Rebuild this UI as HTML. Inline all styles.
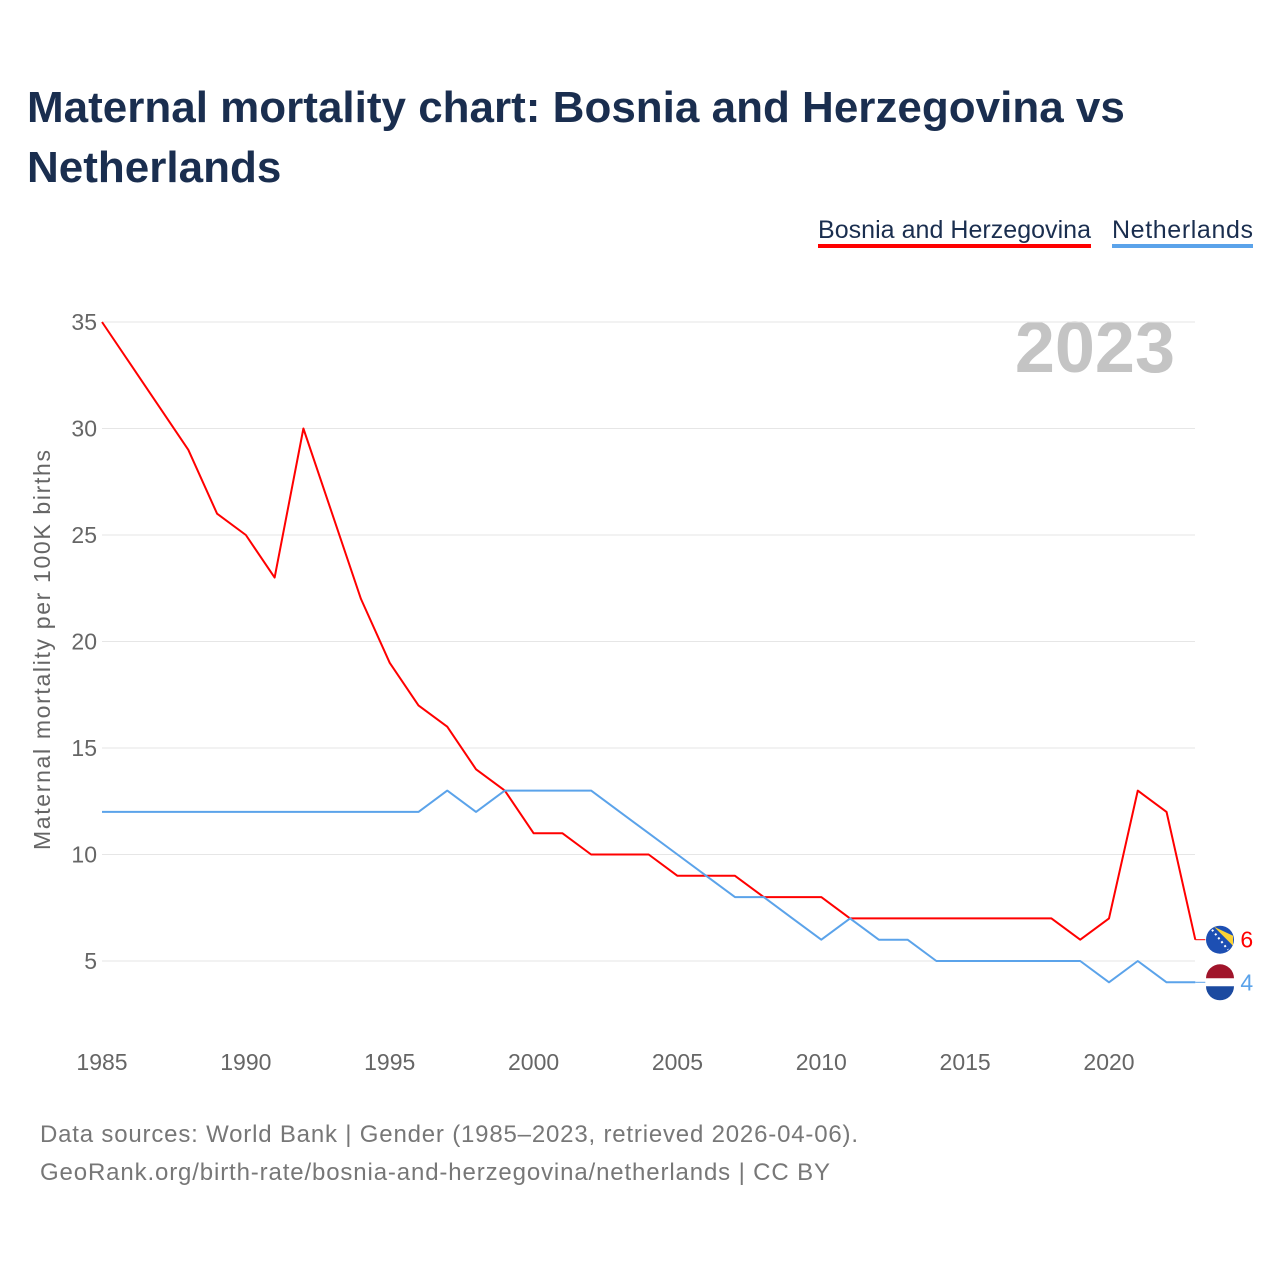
<!DOCTYPE html>
<html><head><meta charset="utf-8">
<style>
body{margin:0;background:#fff;font-family:"Liberation Sans",sans-serif;}
#c{position:relative;width:1280px;height:1280px;}
</style></head>
<body>
<div id="c">
<svg id="s" width="1280" height="1280" xmlns="http://www.w3.org/2000/svg">
<text x="27" y="122" font-size="44" font-weight="bold" fill="#1a2e4f">Maternal mortality chart: Bosnia and Herzegovina vs</text>
<text x="27" y="182" font-size="44" font-weight="bold" fill="#1a2e4f">Netherlands</text>
<g>
<text x="818" y="238" font-size="25" fill="#1a2e4f" textLength="273">Bosnia and Herzegovina</text>
<rect x="818" y="244" width="273" height="4" fill="#f00"/></g>
<g>
<text x="1112" y="238" font-size="25" fill="#1a2e4f" textLength="141">Netherlands</text>
<rect x="1112" y="244" width="141" height="4" fill="#5ba3ea"/></g>
<text x="1175" y="372" font-size="72" font-weight="bold" fill="#c4c4c4" text-anchor="end">2023</text>
<g id="grid"></g><g id="lines"></g>
<text transform="translate(50,850) rotate(-90)" font-size="23" fill="#666" textLength="400">Maternal mortality per 100K births</text>
<text x="40" y="1142" font-size="24" fill="#777" textLength="818">Data sources: World Bank | Gender (1985–2023, retrieved 2026-04-06).</text>
<text x="40" y="1180" font-size="24" fill="#777" textLength="790">GeoRank.org/birth-rate/bosnia-and-herzegovina/netherlands | CC BY</text>
</svg></div>
<script>
const years=[1985,1986,1987,1988,1989,1990,1991,1992,1993,1994,1995,1996,1997,1998,1999,2000,2001,2002,2003,2004,2005,2006,2007,2008,2009,2010,2011,2012,2013,2014,2015,2016,2017,2018,2019,2020,2021,2022,2023];
const bosnia=[35,33,31,29,26,25,23,30,26,22,19,17,16,14,13,11,11,10,10,10,9,9,9,8,8,8,7,7,7,7,7,7,7,7,6,7,13,12,6];
const netherlands=[12,12,12,12,12,12,12,12,12,12,12,12,13,12,13,13,13,13,12,11,10,9,8,8,7,6,7,6,6,5,5,5,5,5,5,4,5,4,4];
const yTicks=[5,10,15,20,25,30,35];
const xTicks=[1985,1990,1995,2000,2005,2010,2015,2020];
const NS="http://www.w3.org/2000/svg";
const X=y=>102+(y-1985)*(1007/35);
const Y=v=>961-(v-5)*(639/30);
const grid=document.getElementById('grid'),lines=document.getElementById('lines');
function mk(t,a,p){const e=document.createElementNS(NS,t);for(const k in a)e.setAttribute(k,a[k]);p.appendChild(e);return e;}
yTicks.forEach(v=>{
 const l=mk('line',{x1:102,x2:1195,y1:Y(v),y2:Y(v),stroke:'#e6e6e6','stroke-width':1},grid);
 
 
 const t=mk('text',{x:97,y:Y(v)+8,'font-size':23,fill:'#666','text-anchor':'end'},grid);
 t.textContent=v;
 
 
});
xTicks.forEach(v=>{
 const t=mk('text',{x:X(v),y:1070,'font-size':23,fill:'#666','text-anchor':'middle'},grid);
 t.textContent=v;
 
 
});
function series(vals,col,name){
 const p=mk('polyline',{points:vals.map((v,i)=>X(years[i])+','+Y(v)).join(' '),fill:'none',stroke:col,'stroke-width':2,'stroke-linejoin':'round'},lines);
 
 
 const last=vals[vals.length-1];
 const lx=X(years[years.length-1]);
 mk('line',{x1:lx,x2:lx+10,y1:Y(last),y2:Y(last),stroke:col,'stroke-width':1},lines);
 const t=mk('text',{x:lx+45,y:Y(last)+8,'font-size':23,fill:col},lines);
 t.textContent=last;
 
 
}
series(bosnia,'#ff0000','line-bosnia');
series(netherlands,'#5ba3ea','line-netherlands');
const by=Y(bosnia[bosnia.length-1]),ny=Y(netherlands[netherlands.length-1]),fx=1220;
const f1=mk('g',{},lines);


mk('circle',{cx:fx,cy:by,r:14,fill:'#1d4fb3'},f1);
mk('path',{d:`M${fx-6},${by-13} L${fx+13},${by-4} L${fx+13},${by+6} Z`,fill:'#fcd335'},f1);
mk('path',{d:`M${fx-8},${by-10} L${fx+8},${by+10}`,stroke:'#fff','stroke-width':2,'stroke-dasharray':'2 3'},f1);
const f2=mk('g',{},lines);


mk('circle',{cx:fx,cy:ny,r:14,fill:'#fff'},f2);
mk('path',{d:`M${fx-14},${ny-4} A14 14 0 0 1 ${fx+14},${ny-4} Z`,fill:'#a0152b'},f2);
mk('path',{d:`M${fx-14},${ny+4} A14 14 0 0 0 ${fx+14},${ny+4} Z`,fill:'#1b4aa0'},f2);
</script>
</body></html>
